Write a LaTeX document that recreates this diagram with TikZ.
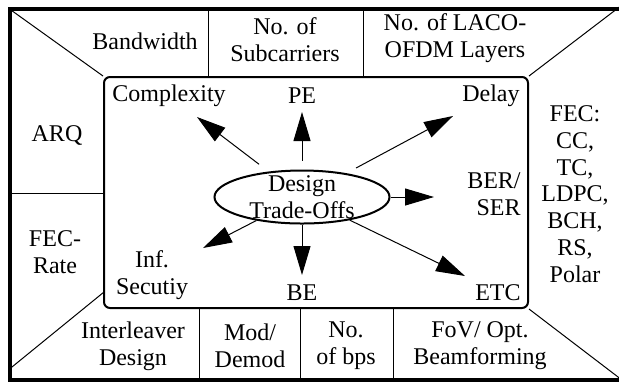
\documentclass[tikz,border=0pt]{standalone}
\usepackage{fontspec}
\setmainfont{Liberation Serif}
\usetikzlibrary{arrows.meta,shapes.geometric}

\begin{document}
\begin{tikzpicture}[
  x=0.5pt,y=-0.5pt,
  font=\fontsize{12}{13.4}\selectfont,
  txt/.style={align=center,inner sep=0pt},
  frame/.style={line width=2pt},
  rule/.style={line width=0.5pt},
  panel/.style={draw,line width=1pt,rounded corners=3pt,minimum width=212pt,minimum height=115.5pt},
  hub/.style={draw,ellipse,line width=1pt,minimum width=87.5pt,minimum height=26.5pt,inner xsep=0pt,inner ysep=-4pt,align=center},
  tradeoff/.style={-{Triangle[length=14.5pt,width=8.5pt]},line width=0.5pt},
]
\useasboundingbox (0,0) rectangle (619,382);
\draw[frame] (9.5,9) rectangle (640,380);

% central panel and the outer cells
\node[panel] (core) at (316,192.5) {};
\draw[rule] (9.5,9) -- (core.north west);
\draw[rule] (622,5) -- (core.north east);
\draw[rule] (9.5,369) -- (104,292);
\draw[rule] (core.south east) -- (622,380);
\draw[rule] (208,9) -- (208,77);
\draw[rule] (363,9) -- (363,77);
\draw[rule] (9.5,193) -- (104,193);
\draw[rule] (199,308) -- (199,380);
\draw[rule] (300,308) -- (300,380);
\draw[rule] (393,308) -- (393,380);

\node[txt] (bw)   at (145,41)  {Bandwidth};
\node[txt] (sub)  at (285,40)  {No. of\\Subcarriers};
\node[txt] (lay)  at (455,38)  {No. of LACO-\\OFDM Layers};
\node[txt] (arq)  at (57,135)  {ARQ};
\node[txt] (rate) at (55,252)  {FEC-\\Rate};
\node[txt] (fec)  at (575,194) {FEC:\\CC,\\TC,\\LDPC,\\BCH,\\RS,\\Polar};
\node[txt] (il)   at (133,346) {Interleaver\\Design};
\node[txt] (mod)  at (250,346) {Mod/\\Demod};
\node[txt] (bps)  at (346,346) {No.\\of bps};
\node[txt] (fov)  at (480,346) {FoV/ Opt.\\Beamforming};

% trade-offs inside the panel
\node[hub] (dto) at (302,197) {Design\\Trade-Offs};
\node[txt] (cx)  at (169,96)  {Complexity};
\node[txt] (pe)  at (302,96)  {PE};
\node[txt,anchor=east] (dl)  at (520,96)  {Delay};
\node[txt,anchor=east,align=right] (ber) at (521,194) {BER/\\SER};
\node[txt,anchor=east] (etc) at (521,293) {ETC};
\node[txt] (be)  at (302,293) {BE};
\node[txt] (sec) at (152,275) {Inf.\\Secutiy};

\coordinate (tcx)  at (197,117);
\coordinate (tpe)  at (302,112);
\coordinate (tdl)  at (453,116);
\coordinate (tber) at (434,197);
\coordinate (tetc) at (465,276);
\coordinate (tbe)  at (302,275);
\coordinate (tsec) at (203,248);
\draw[tradeoff,shorten <=6pt]   (dto) -- (tcx);
\draw[tradeoff,shorten <=4.5pt] (dto) -- (tpe);
\draw[tradeoff,shorten <=5.5pt] (dto) -- (tdl);
\draw[tradeoff] (dto) -- (tber);
\draw[tradeoff] (dto) -- (tetc);
\draw[tradeoff] (dto) -- (tbe);
\draw[tradeoff] (dto) -- (tsec);
\end{tikzpicture}
\end{document}
